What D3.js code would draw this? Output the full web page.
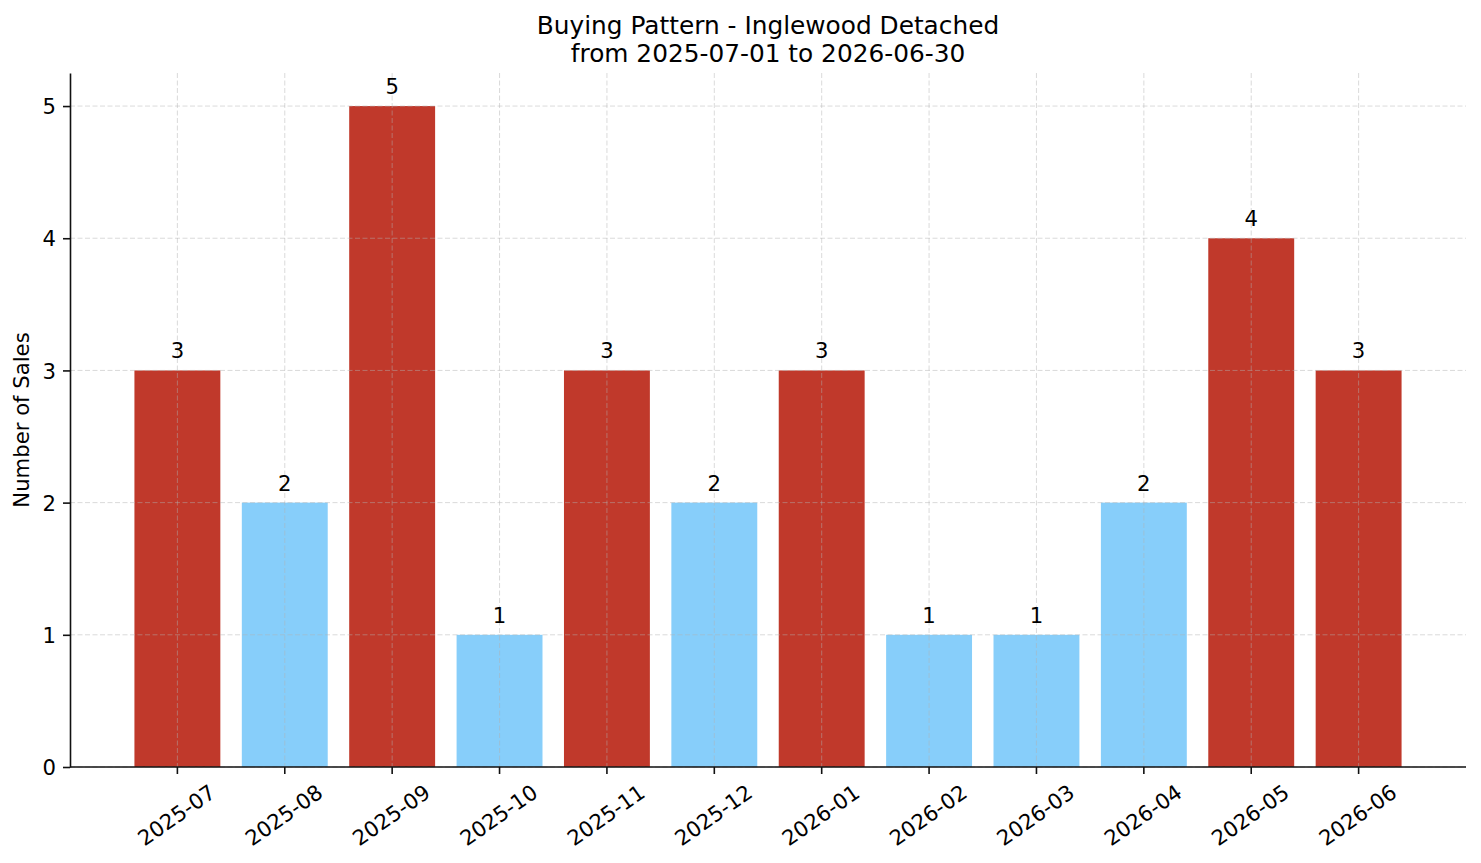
<!DOCTYPE html>
<html>
<head>
<meta charset="utf-8">
<script src="https://cdn.jsdelivr.net/npm/d3@7"></script>
<style>
  body { margin: 0; background: #fff; }
  svg { font-family: "DejaVu Sans", sans-serif; }
</style>
</head>
<body>
<svg width="1481" height="863"></svg>
<script>
// data
const months = ['2025-07','2025-08','2025-09','2025-10','2025-11','2025-12',
                '2026-01','2026-02','2026-03','2026-04','2026-05','2026-06'];
const sales = [3, 2, 5, 1, 3, 2, 3, 1, 1, 2, 4, 3];
const yTicks = [0, 1, 2, 3, 4, 5];
const titleLines = ['Buying Pattern - Inglewood Detached', 'from 2025-07-01 to 2026-06-30'];

const data = months.map((m, i) => ({ month: m, value: sales[i] }));
const avg = d3.mean(sales);

const svg = d3.select('svg');
const plotL = 70, plotR = 1466, plotT = 73, plotB = 767;
const fs = 21.2;

const xScale = d3.scaleBand()
    .domain(months)
    .range([plotL, plotR])
    .paddingInner(0.2)
    .paddingOuter(0.6);

const yScale = d3.scaleLinear()
    .domain([0, 5.25])
    .range([plotB, plotT]);

// bars
svg.append('g').selectAll('rect')
    .data(data)
    .enter().append('rect')
    .attr('x', d => xScale(d.month))
    .attr('width', xScale.bandwidth())
    .attr('y', d => yScale(d.value))
    .attr('height', d => yScale(0) - yScale(d.value))
    .attr('fill', d => d.value > avg ? '#c0392b' : '#87cefa');

// grid (drawn over the bars, like matplotlib)
const grid = svg.append('g')
    .attr('stroke', '#b0b0b0')
    .attr('stroke-opacity', 0.6)
    .attr('stroke-width', 0.8)
    .attr('stroke-dasharray', '5,2.5');

grid.selectAll('.gy')
    .data(yTicks)
    .enter().append('line')
    .attr('x1', plotL).attr('x2', plotR)
    .attr('y1', d => yScale(d)).attr('y2', d => yScale(d));

grid.selectAll('.gx')
    .data(months)
    .enter().append('line')
    .attr('x1', d => xScale(d) + xScale.bandwidth() / 2)
    .attr('x2', d => xScale(d) + xScale.bandwidth() / 2)
    .attr('y1', plotT).attr('y2', plotB);

// axes
const gX = svg.append('g')
    .attr('transform', `translate(0,${plotB})`)
    .call(d3.axisBottom(xScale).tickSize(7).tickSizeOuter(0));

const gY = svg.append('g')
    .attr('transform', `translate(${plotL},0)`)
    .call(d3.axisLeft(yScale).tickValues(yTicks).tickFormat(d3.format('d')).tickSize(7).tickSizeOuter(0));

[gX, gY].forEach(g => {
    g.select('.domain').attr('stroke', '#111').attr('stroke-width', 1.6);
    g.selectAll('.tick line').attr('stroke', '#111').attr('stroke-width', 1.6);
    g.selectAll('text').attr('font-family', '"DejaVu Sans", sans-serif')
        .attr('font-size', fs).attr('fill', '#000');
});

// extend bottom spine to the left edge
gX.select('.domain').attr('d', `M${plotL},0H${plotR}`);

gX.selectAll('.tick text')
    .attr('y', 0).attr('dy', '0.36em')
    .attr('text-anchor', 'middle')
    .attr('transform', 'translate(-1,48) rotate(-35)');

gY.selectAll('.tick text').attr('x', -14).attr('dy', '0.36em');

// value labels
svg.append('g').selectAll('text')
    .data(data)
    .enter().append('text')
    .attr('x', d => xScale(d.month) + xScale.bandwidth() / 2)
    .attr('y', d => yScale(d.value) - 12)
    .attr('text-anchor', 'middle')
    .attr('font-size', fs)
    .text(d => d.value);

// y label
svg.append('text')
    .attr('transform', `translate(29,${(plotT + plotB) / 2}) rotate(-90)`)
    .attr('text-anchor', 'middle')
    .attr('font-size', fs)
    .text('Number of Sales');

// title
svg.append('g').selectAll('text')
    .data(titleLines)
    .enter().append('text')
    .attr('x', (plotL + plotR) / 2)
    .attr('y', (d, i) => 34 + i * 27.5)
    .attr('text-anchor', 'middle')
    .attr('font-size', 24.8)
    .text(d => d);
</script>
</body>
</html>
